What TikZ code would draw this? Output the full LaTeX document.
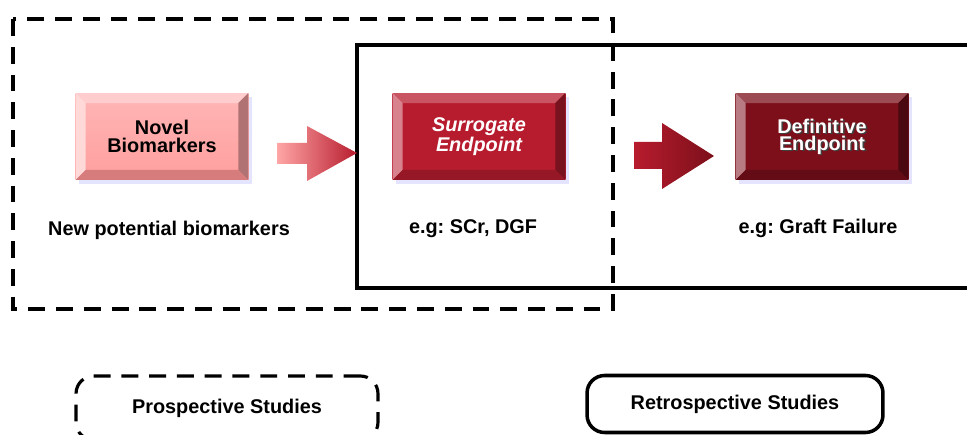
\documentclass[tikz,border=0pt]{standalone}
\usepackage{fontspec}
\setmainfont{Liberation Sans}
\usetikzlibrary{calc,shadows}

\definecolor{bioface}{HTML}{FFB6B6}
\definecolor{biofacelo}{HTML}{FF9E9E}
\definecolor{biotop}{HTML}{FFCDCD}
\definecolor{bioleft}{HTML}{FFD8D8}
\definecolor{bioright}{HTML}{B07272}
\definecolor{biobottom}{HTML}{D67C7C}
\definecolor{surface}{HTML}{B71C2E}
\definecolor{defface}{HTML}{7C0F1A}

\newcommand{\boxfont}{\fontsize{11.3}{9.8}\selectfont\bfseries}
\newcommand{\shadowtext}[1]{\rlap{\raisebox{-.9pt}[0pt][0pt]{\kern.9pt\textcolor{black!75}{#1}}}#1}

\tikzset {
    bevel box/.style n args={6}{
        top color=#1,
        bottom color=#2,
        rectangle, % Set the shape as a rectangle
        minimum width=3.46cm,
        minimum height=1.74cm,
        inner sep=0pt,
        align=center,
        font=\boxfont,
        drop shadow={shadow xshift=2pt, shadow yshift=-2pt, fill=blue!30!white, opacity=.35},
        path picture={
            \coordinate (nw) at (path picture bounding box.north west);
            \coordinate (ne) at (path picture bounding box.north east);
            \coordinate (sw) at (path picture bounding box.south west);
            \coordinate (se) at (path picture bounding box.south east);
            \fill[#3] (nw) -- (ne) -- ($(ne)+(-10,10)$) -- ($(nw)+(10,10)$) -- cycle;
            \fill[#4] (nw) -- ($(nw)+(10,10)$) -- ($(sw)+(10,-10)$) -- (sw) -- cycle;
            \fill[#5] (ne) -- ($(ne)+(-10,10)$) -- ($(se)+(-10,-10)$) -- (se) -- cycle;
            \fill[#6] (sw) -- ($(sw)+(10,-10)$) -- ($(se)+(-10,-10)$) -- (se) -- cycle;
        },
    },
    label text/.style={
        font=\boxfont,
        align=center,
    },
    dash frame/.style={
        draw=black,
        line width=2.2pt,
        dash pattern=on 9.6pt off 6.2pt,
    },
    solid frame/.style={
        draw=black,
        line width=2pt,
    },
}

\begin{document}
\frenchspacing
\begin{tikzpicture}[x=0.02cm, y=-0.02cm]
    \useasboundingbox (0,0) rectangle (967,435);
    \clip (0,0) rectangle (967,435);

    % study frames
    \draw[dash frame] (13,19) rectangle (613,309);
    \draw[solid frame] (357,45) rectangle (990,288);

    % boxes
    \node[bevel box={bioface}{biofacelo}{biotop}{bioleft}{bioright}{biobottom}] (bio) at (162,136.5) {Novel\\Biomarkers};
    \node[bevel box={surface}{surface}{surface!75!white}{surface!55!white}{surface!65!black}{surface!82!black}, text=white] (sur) at (479,136.5) {\itshape Surrogate\\\itshape Endpoint};
    \node[bevel box={defface}{defface}{defface!75!white}{defface!55!white}{defface!60!black}{defface!80!black}, text=white] (def) at (822,136.5) {\shadowtext{Definitive}\\\shadowtext{Endpoint}};

    % arrows
    \shade[left color=red!35!white, right color=surface] (277,143) -- (307,143) -- (307,126) -- (357,153) -- (307,181) -- (307,164) -- (277,164) -- cycle;
    \shade[left color=surface, right color=defface] (634,142) -- (662,142) -- (662,123) -- (714,156) -- (662,189) -- (662,169) -- (634,169) -- cycle;

    % examples
    \node[label text] (biolab) at (169,230) {New potential biomarkers};
    \node[label text] (surlab) at (473,229) {e.g: SCr, DGF};
    \node[label text] (deflab) at (818,228) {e.g: Graft Failure};

    % legend
    \node[dash frame, rounded corners=10, minimum width=6.04cm, minimum height=1.28cm, label text, line width=1.8pt] (prosp) at (227,408) {Prospective Studies};
    \node[solid frame, rounded corners=10, minimum width=5.92cm, minimum height=1.14cm, label text] (retro) at (735,404) {Retrospective Studies};
\end{tikzpicture}
\end{document}
